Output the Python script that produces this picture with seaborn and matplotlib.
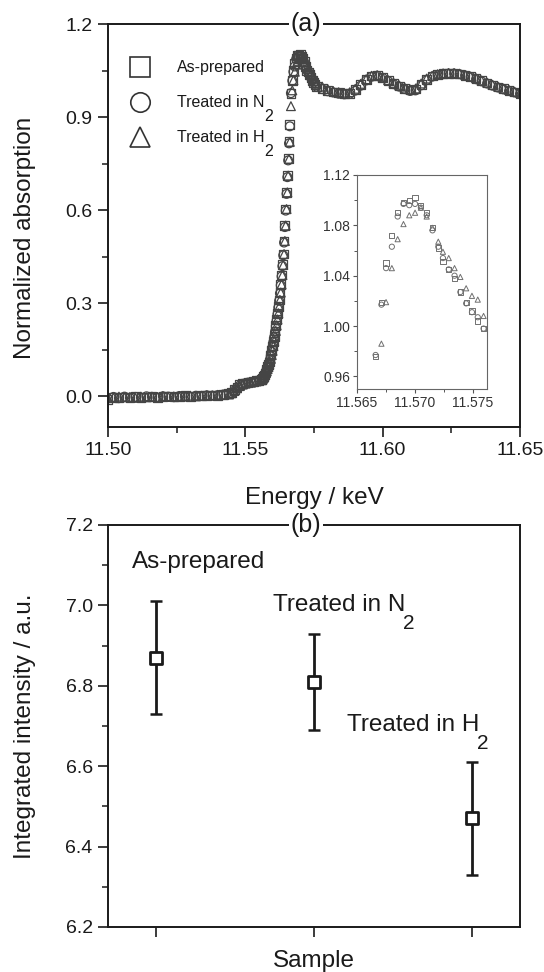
import numpy as np
import pandas as pd
import matplotlib
matplotlib.use("Agg")
import matplotlib.pyplot as plt
import seaborn as sns
from matplotlib.lines import Line2D
from matplotlib.ticker import FixedLocator

# ---------------- data ----------------
energy = [
    11.500, 11.502, 11.504, 11.506, 11.508, 11.510, 11.512, 11.514, 11.516, 11.518,
    11.520, 11.522, 11.524, 11.526, 11.528, 11.530, 11.532, 11.534, 11.536, 11.538,
    11.540, 11.542, 11.544,
    11.545, 11.546, 11.547, 11.548, 11.549, 11.550, 11.551, 11.552, 11.553, 11.554, 11.555,
    11.5560, 11.5563, 11.5566, 11.5569, 11.5572, 11.5575, 11.5578, 11.5581, 11.5584, 11.5587,
    11.5590, 11.5593, 11.5596, 11.5599, 11.5602, 11.5605, 11.5608, 11.5611, 11.5614, 11.5617,
    11.5620, 11.5623, 11.5626, 11.5629, 11.5632, 11.5635, 11.5638, 11.5641, 11.5644, 11.5647,
    11.5650, 11.5653, 11.5656, 11.5659, 11.5662,
    11.5666, 11.5671, 11.5675, 11.5680, 11.5685, 11.5690, 11.5695, 11.5700, 11.5705, 11.5710,
    11.5715, 11.5720, 11.5724, 11.5729, 11.5734, 11.5739, 11.5744, 11.5749, 11.5754, 11.5759,
    11.578, 11.580, 11.582, 11.584, 11.586, 11.588, 11.590, 11.592, 11.594, 11.596,
    11.598, 11.600, 11.602, 11.604, 11.606, 11.608, 11.610, 11.612, 11.614, 11.616,
    11.618, 11.620, 11.622, 11.624, 11.626, 11.628, 11.630, 11.632, 11.634, 11.636,
    11.638, 11.640, 11.642, 11.644, 11.646, 11.648, 11.650,
]

abs_as_prepared = [
    -0.012, -0.004, -0.006, -0.003, -0.005, -0.002, -0.004, -0.003, -0.001, -0.004,
    -0.002, 0.000, -0.003, -0.001, 0.001, -0.002, 0.000, 0.002, 0.001, 0.003,
    0.002, 0.004, 0.007,
    0.012, 0.020, 0.029, 0.036, 0.040, 0.042, 0.044, 0.045, 0.047, 0.049, 0.051,
    0.054, 0.058, 0.063, 0.068, 0.074, 0.080, 0.087, 0.094, 0.102, 0.110,
    0.120, 0.132, 0.146, 0.161, 0.177, 0.193, 0.210, 0.228, 0.247, 0.267,
    0.288, 0.310, 0.334, 0.360, 0.390, 0.423, 0.458, 0.500, 0.550, 0.603,
    0.657, 0.711, 0.765, 0.820, 0.875,
    0.976, 1.019, 1.050, 1.072, 1.090, 1.098, 1.100, 1.102, 1.096, 1.090,
    1.078, 1.062, 1.051, 1.045, 1.038, 1.027, 1.019, 1.012, 1.004, 0.998,
    0.992, 0.985, 0.981, 0.978, 0.976, 0.977, 0.988, 1.004, 1.020, 1.032,
    1.034, 1.027, 1.018, 1.008, 1.000, 0.993, 0.987, 0.990, 1.006, 1.022,
    1.032, 1.037, 1.040, 1.041, 1.041, 1.039, 1.035, 1.030, 1.024, 1.017,
    1.010, 1.003, 0.997, 0.991, 0.986, 0.981, 0.977,
]

abs_n2 = [
    -0.008, -0.003, -0.007, -0.002, -0.006, -0.003, -0.005, -0.001, -0.003, -0.005,
    -0.001, -0.002, -0.004, 0.000, -0.002, -0.003, 0.001, 0.000, 0.002, 0.001,
    0.003, 0.005, 0.006,
    0.010, 0.018, 0.027, 0.034, 0.039, 0.041, 0.043, 0.044, 0.046, 0.048, 0.050,
    0.052, 0.056, 0.061, 0.066, 0.072, 0.078, 0.085, 0.092, 0.100, 0.108,
    0.118, 0.129, 0.143, 0.158, 0.174, 0.190, 0.207, 0.225, 0.244, 0.264,
    0.285, 0.307, 0.331, 0.357, 0.386, 0.419, 0.454, 0.495, 0.545, 0.598,
    0.652, 0.706, 0.760, 0.815, 0.870,
    0.977, 1.017, 1.046, 1.063, 1.087, 1.097, 1.096, 1.097, 1.094, 1.088,
    1.076, 1.063, 1.054, 1.045, 1.040, 1.027, 1.018, 1.011, 1.007, 0.998,
    0.990, 0.983, 0.979, 0.975, 0.973, 0.975, 0.985, 1.001, 1.018, 1.030,
    1.033, 1.026, 1.016, 1.006, 0.998, 0.990, 0.984, 0.986, 1.002, 1.019,
    1.030, 1.035, 1.038, 1.040, 1.040, 1.038, 1.034, 1.029, 1.022, 1.015,
    1.008, 1.001, 0.995, 0.989, 0.984, 0.979, 0.975,
]

abs_h2 = [
    -0.006, -0.005, -0.002, -0.004, -0.003, -0.006, -0.002, -0.004, -0.002, -0.003,
    0.000, -0.003, -0.001, -0.002, 0.000, 0.001, -0.001, 0.001, 0.003, 0.002,
    0.004, 0.003, 0.005,
    0.009, 0.016, 0.025, 0.032, 0.037, 0.040, 0.042, 0.043, 0.045, 0.047, 0.049,
    0.051, 0.054, 0.058, 0.063, 0.068, 0.074, 0.080, 0.087, 0.094, 0.102,
    0.110, 0.120, 0.132, 0.146, 0.161, 0.177, 0.193, 0.210, 0.228, 0.247,
    0.267, 0.288, 0.310, 0.334, 0.360, 0.390, 0.423, 0.458, 0.500, 0.550,
    0.603, 0.657, 0.711, 0.765, 0.820,
    0.935, 0.986, 1.019, 1.046, 1.069, 1.081, 1.088, 1.090, 1.094, 1.087,
    1.078, 1.067, 1.059, 1.054, 1.046, 1.039, 1.030, 1.024, 1.021, 1.008,
    0.998, 0.990, 0.984, 0.980, 0.978, 0.980, 0.991, 1.007, 1.022, 1.033,
    1.035, 1.028, 1.019, 1.010, 1.002, 0.995, 0.989, 0.992, 1.008, 1.024,
    1.033, 1.038, 1.041, 1.042, 1.042, 1.040, 1.036, 1.031, 1.025, 1.018,
    1.011, 1.004, 0.998, 0.992, 0.987, 0.982, 0.978,
]

series_names = ["As-prepared", "Treated in N2", "Treated in H2"]
series_label_main = ["As-prepared", "Treated in N", "Treated in H"]
series_label_sub = ["", "2", "2"]
series_markers = ["s", "o", "^"]

samples = ["As-prepared", "Treated in N2", "Treated in H2"]
intensity = [6.87, 6.81, 6.47]
intensity_err = [0.14, 0.12, 0.14]

# ---------------- style ----------------
sns.set_theme(style="ticks")
plt.rcParams["font.family"] = ["Liberation Sans", "DejaVu Sans"]

INK = "#1a1a1a"

df = pd.concat(
    [pd.DataFrame({"energy": energy, "absorption": vals, "sample": name})
     for name, vals in zip(series_names, [abs_as_prepared, abs_n2, abs_h2])],
    ignore_index=True,
)
marker_map = dict(zip(series_names, series_markers))

fig = plt.figure(figsize=(5.44, 9.72), dpi=100)
ax1 = fig.add_axes([0.1985, 0.5607, 0.7574, 0.4146])
ax2 = fig.add_axes([0.1985, 0.0463, 0.7574, 0.4136])
axin = fig.add_axes([0.6563, 0.5998, 0.2390, 0.2202])


def style_axes(ax, lw=1.4, color=INK):
    for sp in ax.spines.values():
        sp.set_visible(True)
        sp.set_linewidth(lw)
        sp.set_color(color)


def add_subscript(ax, text_artist, sub, fontsize, dx=-1.0, dy=0.5):
    if not sub:
        return
    ax.annotate(sub, xy=(1, 0), xycoords=text_artist,
                xytext=(dx, dy), textcoords="offset points",
                ha="left", va="top", fontsize=fontsize, color=INK,
                annotation_clip=False, zorder=20)


# ---------------- panel (a) ----------------
sns.scatterplot(data=df, x="energy", y="absorption", style="sample",
                markers=marker_map, s=40, color="#454545", linewidth=0.9,
                legend=False, ax=ax1)
for coll in ax1.collections:
    coll.set_facecolor("none")
    coll.set_edgecolor("#454545")
    coll.set_linewidth(0.9)

ax1.set_xlim(11.50, 11.65)
ax1.set_ylim(-0.1, 1.2)
ax1.xaxis.set_major_locator(FixedLocator([11.50, 11.55, 11.60, 11.65]))
ax1.xaxis.set_minor_locator(FixedLocator([11.525, 11.575, 11.625]))
ax1.yaxis.set_major_locator(FixedLocator([0.0, 0.3, 0.6, 0.9, 1.2]))
ax1.yaxis.set_minor_locator(FixedLocator([0.15, 0.45, 0.75, 1.05]))
ax1.set_xticklabels(["11.50", "11.55", "11.60", "11.65"])
ax1.set_yticklabels(["0.0", "0.3", "0.6", "0.9", "1.2"])
ax1.tick_params(which="major", direction="out", length=7, width=1.2,
                labelsize=14, color=INK, labelcolor=INK, pad=4)
ax1.tick_params(which="minor", direction="out", length=4, width=1.1, color=INK)
ax1.set_xlabel("Energy / keV", fontsize=17.5, color=INK)
ax1.set_ylabel("Normalized absorption", fontsize=17.5, color=INK)
ax1.xaxis.set_label_coords(0.5, -0.148)
ax1.yaxis.set_label_coords(-0.175, 0.47)
style_axes(ax1)

ax1.text(0.481, 1.0, "(a)", transform=ax1.transAxes, ha="center", va="center",
         fontsize=18, color=INK,
         bbox=dict(facecolor="white", edgecolor="none", pad=1.5), zorder=10)

handles = [Line2D([], [], linestyle="none", marker=m, markersize=14,
                  markerfacecolor="none", markeredgecolor="#333333",
                  markeredgewidth=1.2)
           for m in series_markers]
leg = ax1.legend(handles, series_label_main, loc="upper left",
                 bbox_to_anchor=(0.04, 0.91), frameon=False, fontsize=11.5,
                 handlelength=2.0, handletextpad=1.3, labelspacing=1.25,
                 borderpad=0, borderaxespad=0)
leg.set_zorder(8)
for txt, sub in zip(leg.get_texts(), series_label_sub):
    txt.set_color(INK)
    add_subscript(ax1, txt, sub, 11.5, dx=-0.5, dy=1.0)

# ---------------- inset ----------------
sns.scatterplot(data=df, x="energy", y="absorption", style="sample",
                markers=marker_map, s=14, color="#707070", linewidth=0.7,
                legend=False, ax=axin)
for coll in axin.collections:
    coll.set_facecolor("none")
    coll.set_edgecolor("#707070")
    coll.set_linewidth(0.7)
axin.set_xlim(11.565, 11.5762)
axin.set_ylim(0.95, 1.12)
axin.xaxis.set_major_locator(FixedLocator([11.565, 11.570, 11.575]))
axin.xaxis.set_minor_locator(FixedLocator([11.5675, 11.5725]))
axin.yaxis.set_major_locator(FixedLocator([0.96, 1.00, 1.04, 1.08, 1.12]))
axin.yaxis.set_minor_locator(FixedLocator([0.98, 1.02, 1.06, 1.10]))
axin.set_xticklabels(["11.565", "11.570", "11.575"])
axin.set_yticklabels(["0.96", "1.00", "1.04", "1.08", "1.12"])
axin.tick_params(which="major", direction="out", length=3, width=0.8,
                 labelsize=10, color="#555555", labelcolor="#333333", pad=2)
axin.tick_params(which="minor", direction="out", length=2, width=0.7,
                 color="#555555")
axin.set_xlabel("")
axin.set_ylabel("")
style_axes(axin, lw=0.8, color="#666666")

# ---------------- panel (b) ----------------
ax2.errorbar(range(len(samples)), intensity, yerr=intensity_err, fmt="none",
             ecolor=INK, elinewidth=1.8, capsize=4, capthick=1.8, zorder=2)
sns.scatterplot(x=samples, y=intensity, marker="s", s=80, ax=ax2,
                zorder=3, legend=False)
for coll in ax2.collections:
    coll.set_facecolor("white")
    coll.set_edgecolor(INK)
    coll.set_linewidth(2.0)

ax2.set_xlim(-0.3, 2.3)
ax2.set_ylim(6.2, 7.2)
ax2.set_xticks(range(len(samples)))
ax2.set_xticklabels([])
ax2.yaxis.set_major_locator(FixedLocator([6.2, 6.4, 6.6, 6.8, 7.0, 7.2]))
ax2.yaxis.set_minor_locator(FixedLocator([6.3, 6.5, 6.7, 6.9, 7.1]))
ax2.set_yticklabels(["6.2", "6.4", "6.6", "6.8", "7.0", "7.2"])
ax2.tick_params(which="major", direction="out", length=7, width=1.2,
                labelsize=14, color=INK, labelcolor=INK, pad=4)
ax2.tick_params(which="minor", direction="out", length=4, width=1.1, color=INK)
ax2.set_xlabel("Sample", fontsize=17.5, color=INK)
ax2.set_ylabel("Integrated intensity / a.u.", fontsize=17.5, color=INK)
ax2.xaxis.set_label_coords(0.5, -0.058)
ax2.yaxis.set_label_coords(-0.175, 0.5)
style_axes(ax2)

ax2.text(0.481, 1.0, "(b)", transform=ax2.transAxes, ha="center", va="center",
         fontsize=18, color=INK,
         bbox=dict(facecolor="white", edgecolor="none", pad=1.5), zorder=10)

label_x = [-0.146, 0.739, 1.208]
label_y = [7.093, 6.986, 6.688]
for main, sub, lx, ly in zip(series_label_main, series_label_sub, label_x, label_y):
    t = ax2.text(lx, ly, main, ha="left", va="baseline", fontsize=17.5, color=INK)
    add_subscript(ax2, t, sub, 15, dx=-1.5, dy=1.5)

fig.savefig("out.png", dpi=100)
